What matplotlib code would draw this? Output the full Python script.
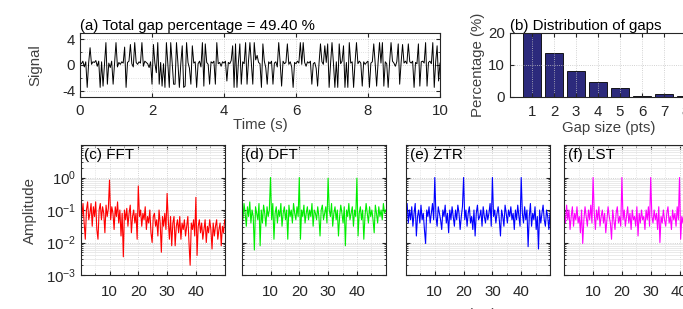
import numpy as np
import matplotlib
matplotlib.use("Agg")
import matplotlib.pyplot as plt
from matplotlib.ticker import MultipleLocator, LogLocator, NullFormatter

plt.rcParams["font.family"] = ["Liberation Sans", "DejaVu Sans"]
plt.rcParams["mathtext.fontset"] = "custom"
plt.rcParams["mathtext.rm"] = "Liberation Sans"
plt.rcParams["axes.unicode_minus"] = False

# gapped signal, sampled every 0.04 s
signal = [
    0.4, 0.2, 0.6, -0.3, 0.5, -3.5, 0.3, 2.7, 0.1, 0.5,
    0.4, 0.7, -0.2, 0.6, -3.5, 0.5, -3.3, 0.2, 3.5, -3.0,
    0.3, -0.4, 0.6, -3.0, 0.2, 3.5, -0.3, 0.4, 0.1, 0.5,
    0.3, 2.8, -3.5, 0.4, 0.6, 3.2, 0.2, -0.3, 3.5, 0.4,
    0.1, 0.5, 0.3, 3.5, -0.2, 0.6, 0.4, 0.2, -0.4, 0.5,
    -3.0, 3.2, 0.3, -1.2, 3.5, -3.0, 0.4, -3.3, 0.2, -3.5,
    3.5, 0.2, -3.5, 3.5, 0.4, -3.0, -3.0, 3.5, 0.3, -3.5,
    0.2, 3.0, -3.5, -3.3, 3.5, 0.4, -0.5, -3.0, 3.0, 0.3,
    0.5, -3.5, 0.2, 0.6, -0.3, 3.5, -3.3, 3.3, 0.4, 0.1,
    -3.0, 0.5, 0.3, 0.6, -3.0, 3.5, 0.2, 0.4, -0.2, 0.5,
    0.3, 0.6, -2.5, 0.4, 0.2, 0.7, 3.0, -3.5, 3.3, -3.5,
    0.4, 3.3, -3.0, 0.5, 0.2, 3.5, -3.0, 0.6, 3.5, 0.3,
    -3.0, 3.5, 0.8, 1.5, 0.4, 0.2, -3.5, 3.3, 0.6, -0.4,
    -3.0, 0.5, 0.2, 0.6, -3.0, 0.3, 0.5, -0.3, 3.5, 0.4,
    -3.3, 0.6, 0.2, 0.4, 3.3, 0.1, 0.5, -0.3, -3.5, 0.4,
    0.2, 0.6, 0.3, 3.5, 0.1, 3.5, 0.4, -0.2, 0.5, 0.3,
    0.6, -3.0, 0.2, 0.4, -0.5, -3.3, 0.3, 3.3, 0.5, 0.1,
    3.0, 0.4, 3.3, -3.5, 0.2, 3.5, 0.3, -3.5, 0.5, -3.5,
    3.3, 0.2, 0.6, 3.0, -3.5, 0.4, -3.5, 3.5, 0.3, 0.5,
    -3.5, 0.4, 3.5, 0.2, 0.6, 0.3, -3.3, 0.5, 0.1, 0.4,
    0.6, -3.5, 0.3, 0.5, 3.3, 0.2, -3.3, 0.4, 3.5, 0.3,
    3.5, -3.3, 0.5, 0.2, -3.5, 0.4, 3.5, 0.6, 0.3, -0.2,
    0.5, 3.3, -3.0, 0.4, 3.2, 0.3, 0.6, 0.2, 3.3, 0.5,
    0.3, 0.6, -3.5, 0.4, 0.2, 3.3, -3.3, 0.5, 0.6, 0.3,
    3.5, -3.3, 0.4, 0.6, 0.2, 3.5, -3.5, 0.5, 3.0, -2.5, 0.3,
]
dt = 0.04

gap_sizes = [1, 2, 3, 4, 5, 6, 7, 8]
gap_pct = [20.5, 13.8, 8.2, 4.6, 2.7, 0.2, 0.9, 0.2]

# spectra, log10 amplitude on a 0-50 Hz grid (126 bins)
fft_log = [
    -0.9, -1.2, -0.8, -1.4, -1.9, -1.0, -0.75, -1.3, -1.1, -0.8,
    -1.5, -0.9, -1.2, -0.75, -1.6, -1.9, -1.0, -0.8, -1.3, -0.9,
    -1.1, -1.7, -0.85, -1.2, -0.95, -0.08, -1.3, -0.9, -1.1, -1.6,
    -0.9, -1.2, -0.75, -1.4, -1.0, -1.8, -1.1, -2.44, -1.0, -1.3,
    -0.95, -1.5, -1.1, -0.85, -1.7, -1.2, -1.0, -1.4, -1.1, -1.9,
    -0.26, -1.2, -1.0, -1.5, -1.1, -1.3, -0.9, -1.6, -1.2, -1.4,
    -1.0, -1.7, -2.0, -1.2, -1.1, -1.5, -1.3, -1.8, -1.0, -1.4,
    -2.3, -1.2, -1.5, -1.1, -1.6, -0.49, -1.3, -1.9, -1.2, -2.1,
    -1.4, -1.2, -2.1, -1.5, -1.3, -1.7, -1.2, -1.9, -1.4, -1.6,
    -1.3, -1.8, -1.5, -1.2, -2.0, -2.7, -1.4, -1.6, -1.3, -1.8,
    -0.61, -2.4, -1.5, -1.3, -1.7, -1.4, -1.9, -1.6, -1.3, -2.0,
    -1.5, -1.7, -1.3, -1.6, -2.2, -1.4, -1.8, -1.5, -1.3, -1.9,
    -1.6, -1.4, -2.1, -1.5, -1.7, -1.3,
]
dft_log = [
    -1.0, -1.3, -0.8, -1.1, -1.5, -0.9, -1.2, -0.75, -1.4, -1.0,
    -1.2, -2.23, -0.9, -1.1, -1.3, -0.8, -2.1, -1.0, -1.4, -0.85,
    -1.1, -1.5, -0.9, -1.2, -1.0, 0.0, -1.3, -0.8, -1.9, -1.1,
    -0.9, -1.4, -1.0, -1.2, -0.8, -1.5, -1.1, -0.9, -1.3, -1.0,
    -1.9, -0.85, -1.2, -1.0, -1.4, -0.8, -1.1, -1.3, -0.9, -1.2,
    0.0, -1.9, -1.0, -1.2, -0.85, -1.4, -1.1, -0.9, -1.3, -1.0,
    -1.2, -0.8, -1.5, -1.0, -1.1, -1.3, -0.9, -1.2, -1.8, -1.0,
    -0.85, -1.3, -1.1, -0.9, -1.4, -0.02, -1.0, -1.2, -0.8, -1.5,
    -1.1, -0.9, -1.3, -1.0, -1.8, -1.2, -0.85, -1.1, -1.4, -0.9,
    -2.1, -1.0, -1.2, -0.8, -1.3, -1.1, -0.9, -1.5, -1.0, -1.2,
    -0.02, -1.8, -1.1, -0.9, -1.3, -1.0, -1.9, -1.2, -0.8, -1.1,
    -1.4, -0.9, -1.2, -1.0, -1.3, -1.7, -0.85, -1.1, -1.4, -0.9,
    -1.2, -1.0, -1.3, -0.8, -1.1, -1.0,
]
ztr_log = [
    -1.2, -0.8, -1.4, -1.0, -1.3, -0.9, -1.5, -1.1, -0.8, -1.8,
    -1.2, -1.0, -1.4, -0.85, -1.3, -1.1, -1.6, -2.03, -1.0, -1.2,
    -0.9, -1.4, -1.1, -0.8, -1.3, 0.0, -1.2, -1.5, -0.9, -1.1,
    -1.3, -1.6, -1.0, -1.2, -0.85, -1.4, -1.1, -1.7, -1.0, -1.3,
    -0.9, -1.2, -1.5, -1.0, -1.3, -0.85, -1.1, -1.6, -1.2, -0.9,
    0.0, -1.3, -1.0, -1.5, -1.1, -0.9, -1.4, -1.2, -1.6, -1.0,
    -1.8, -1.1, -0.85, -1.3, -1.2, -1.0, -1.5, -0.9, -1.2, -1.4,
    -1.0, -1.3, -1.1, -0.8, -1.5, 0.0, -1.2, -1.0, -1.4, -1.1,
    -0.9, -1.3, -1.8, -1.0, -1.2, -1.5, -0.85, -1.1, -1.4, -1.0,
    -1.2, -0.9, -1.3, -1.1, -1.6, -1.0, -1.3, -0.85, -1.2, -1.5,
    0.0, -1.1, -1.4, -0.9, -1.3, -1.0, -2.13, -1.2, -0.8, -1.5,
    -1.1, -1.3, -0.9, -1.6, -1.2, -2.2, -1.0, -1.4, -1.1, -0.85,
    -1.3, -1.5, -1.0, -1.2, -1.6, -1.1,
]
lst_log = [
    -1.1, -1.4, -0.85, -1.3, -1.0, -1.6, -1.2, -0.9, -1.5, -1.1,
    -1.3, -0.9, -1.4, -1.2, -1.7, -1.0, -2.03, -1.3, -0.9, -1.2,
    -1.5, -1.0, -1.3, -0.85, -1.4, 0.0, -1.1, -1.6, -1.0, -1.3,
    -0.9, -1.5, -1.2, -1.0, -1.4, -1.1, -1.7, -1.3, -0.9, -1.2,
    -1.4, -1.9, -1.0, -1.3, -1.6, -1.1, -0.9, -1.4, -1.2, -1.5,
    0.0, -1.3, -1.0, -1.5, -1.2, -0.9, -1.4, -1.1, -1.6, -1.0,
    -1.3, -1.2, -1.5, -0.9, -1.8, -1.1, -1.4, -1.0, -1.3, -1.2,
    -1.6, -1.0, -1.3, -0.9, -1.5, 0.0, -1.2, -1.4, -1.0, -1.3,
    -1.1, -1.6, -0.9, -2.0, -1.2, -1.4, -1.0, -1.3, -1.5, -1.1,
    -0.9, -1.4, -1.2, -1.6, -1.0, -1.3, -1.1, -1.5, -0.9, -1.3,
    0.0, -1.9, -1.2, -1.4, -1.0, -1.3, -1.6, -1.1, -0.9, -1.4,
    -1.2, -1.5, -1.0, -1.3, -1.7, -1.1, -0.9, -1.4, -1.2, -1.5,
    -1.0, -1.3, -1.6, -1.1, -1.2, -1.4,
]
spec_names = ["(c) FFT", "(d) DFT", "(e) ZTR", "(f) LST"]
spec_colors = ["#ff0000", "#00ee00", "#0000ff", "#ff00ff"]

W, H = 683, 309
ink = "#262626"
fs = 10.8
fig = plt.figure(figsize=(W / 100, H / 100), dpi=100)


def px_axes(x0, y0, x1, y1):
    return fig.add_axes([x0 / W, 1 - y1 / H, (x1 - x0) / W, (y1 - y0) / H])


def style(ax):
    for s in ax.spines.values():
        s.set_color(ink)
        s.set_linewidth(0.8)
    ax.tick_params(which="both", direction="in", top=True, right=True,
                   colors=ink, labelsize=fs, length=3)
    ax.tick_params(which="minor", length=1.5)
    ax.grid(True, which="major", color="#c4c4c4", lw=0.6, ls=":")


# (a) signal
ax = px_axes(80, 33, 440, 97)
t = np.arange(len(signal)) * dt
ax.plot(t, signal, color="black", lw=0.7)
ax.set_xlim(0, 10)
ax.set_ylim(-5, 5)
ax.set_yticks([-4, 0, 4])
ax.yaxis.set_minor_locator(MultipleLocator(2))
style(ax)
ax.tick_params(axis="x", pad=5)
ax.grid(True, which="minor", axis="y", color="#d8d8d8", lw=0.6, ls=":")
ax.set_xlabel("Time (s)", fontsize=fs, color="#404040", labelpad=0)
ax.set_ylabel("Signal", fontsize=fs, color="#404040", labelpad=14)
ax.set_title("(a) Total gap percentage = 49.40 %", fontsize=fs, loc="left",
             pad=2, color="black")

# (b) gap distribution
ax = px_axes(510, 33, 708, 97)
ax.bar(gap_sizes, gap_pct, width=0.85, color="#2c2a7c", edgecolor="black", lw=0.6)
ax.set_xlim(0, 9)
ax.set_ylim(0, 20)
ax.set_xticks(gap_sizes)
ax.set_yticks([0, 10, 20])
style(ax)
ax.tick_params(axis="x", pad=6)
ax.set_xlabel("Gap size (pts)", fontsize=fs, color="#404040", labelpad=1)
ax.set_ylabel("Percentage (%)", fontsize=fs, color="#404040", labelpad=2)
ax.set_title("(b) Distribution of gaps", fontsize=fs, loc="left", pad=2)

# (c)-(f) spectra
freq = np.linspace(0, 50, len(fft_log))
spectra = [fft_log, dft_log, ztr_log, lst_log]
lefts = [80.7, 241.7, 406, 564.3]
for i, (vals, name, col, x0) in enumerate(zip(spectra, spec_names, spec_colors, lefts)):
    ax = px_axes(x0, 145, x0 + 144, 275)
    ax.semilogy(freq, 10.0 ** np.array(vals), color=col, lw=0.8)
    ax.set_xlim(0, 50)
    ax.set_ylim(1e-3, 1e1)
    ax.set_xticks([10, 20, 30, 40])
    ax.xaxis.set_minor_locator(MultipleLocator(5))
    ax.set_yticks([1e-3, 1e-2, 1e-1, 1e0])
    ax.yaxis.set_minor_locator(LogLocator(base=10, subs=np.arange(2, 10)))
    ax.yaxis.set_minor_formatter(NullFormatter())
    style(ax)
    ax.grid(True, which="minor", axis="y", color="#e2e2e2", lw=0.5, ls="-")
    ax.grid(True, which="minor", axis="x", color="#d4d4d4", lw=0.5, ls=":")
    ax.tick_params(axis="x", pad=7)
    ax.text(0.025, 0.975, name, transform=ax.transAxes, fontsize=11,
            va="top", ha="left", color="black")
    if i == 0:
        ax.set_ylabel("Amplitude", fontsize=fs, color="#404040", labelpad=6)
    else:
        ax.set_yticklabels([])

fig.text(445 / W, 1 / H, "Frequency (Hz)", fontsize=fs, color="#404040",
         ha="center", va="top")

fig.savefig("out.png", dpi=100)
